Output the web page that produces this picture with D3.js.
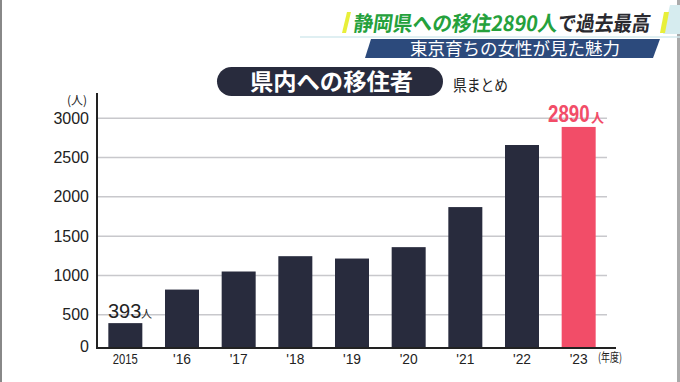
<!DOCTYPE html>
<html>
<head>
<meta charset="utf-8">
<script src="https://cdn.jsdelivr.net/npm/d3@7"></script>
<style>
  body { margin: 0; background: #fff; }
  svg { display: block; }
</style>
</head>
<body>
<svg width="680" height="382"></svg>
<script>
var years = ["2015", "'16", "'17", "'18", "'19", "'20", "'21", "'22", "'23"];
var movers = [393, 820, 1050, 1245, 1215, 1360, 1870, 2660, 2890];
var yTicks = [0, 500, 1000, 1500, 2000, 2500, 3000];

var svg = d3.select("svg"),
    width = +svg.attr("width"),
    height = +svg.attr("height");

var jp = "'Noto Sans CJK JP', sans-serif",
    num = "'Liberation Sans', Roboto, sans-serif",
    navy = "#282b3d",
    pink = "#f24d68";

var baseY = 348;

var x = d3.scaleBand()
    .domain(years)
    .range([97, 607])
    .paddingInner(0.4)
    .paddingOuter(0.2);

var y = d3.scaleLinear()
    .domain([0, 3000])
    .range([354, 118.3]);

// frame edges
svg.append("rect").attr("x", 0).attr("y", 0).attr("width", 2).attr("height", height).attr("fill", "#888");
svg.append("rect").attr("x", 677).attr("y", 0).attr("width", 3).attr("height", height).attr("fill", "#aaa");

// gridlines
svg.append("g")
  .selectAll("line")
  .data(yTicks.filter(function(d) { return d > 0; }))
  .enter().append("line")
    .attr("x1", 97).attr("x2", 607)
    .attr("y1", function(d) { return y(d); })
    .attr("y2", function(d) { return y(d); })
    .attr("stroke", "#c8c8cc")
    .attr("stroke-width", 1.5);

// bars
svg.append("g")
  .selectAll("rect")
  .data(movers)
  .enter().append("rect")
    .attr("x", function(d, i) { return x(years[i]); })
    .attr("width", x.bandwidth())
    .attr("y", function(d) { return y(d); })
    .attr("height", function(d) { return baseY - y(d); })
    .attr("fill", function(d, i) { return i == movers.length - 1 ? pink : navy; });

// axes
svg.append("line").attr("x1", 97).attr("x2", 97).attr("y1", 93).attr("y2", baseY)
    .attr("stroke", "#222").attr("stroke-width", 2);
svg.append("line").attr("x1", 96).attr("x2", 616).attr("y1", baseY).attr("y2", baseY)
    .attr("stroke", "#222").attr("stroke-width", 2);

var yAxis = svg.append("g")
    .attr("transform", "translate(89,0)")
    .call(d3.axisLeft(y).tickValues(yTicks).tickFormat(d3.format("d")).tickSize(0).tickPadding(0));
yAxis.select(".domain").remove();
yAxis.selectAll("text")
    .attr("font-family", num)
    .attr("font-size", 16)
    .attr("fill", "#222");
// zero label is squeezed up onto the baseline
yAxis.selectAll(".tick").filter(function(d) { return d === 0; })
    .attr("transform", "translate(0," + (baseY - 1) + ")");

svg.append("text")
    .attr("x", 77).attr("y", 105)
    .attr("text-anchor", "middle")
    .attr("font-family", jp).attr("font-size", 12).attr("fill", "#222")
    .text("(人)");

var xAxis = svg.append("g")
    .attr("transform", "translate(0," + (baseY + 4) + ")")
    .call(d3.axisBottom(x).tickSize(0).tickPadding(0));
xAxis.select(".domain").remove();
xAxis.selectAll("text")
    .attr("font-family", num)
    .attr("font-size", 15)
    .attr("dy", "0.8em")
    .attr("fill", "#222")
    .attr("textLength", function(d) { return d.length == 4 ? 25 : 18; })
    .attr("lengthAdjust", "spacingAndGlyphs");

svg.append("text")
    .attr("x", 598).attr("y", 362)
    .attr("font-family", jp).attr("font-size", 12).attr("fill", "#222")
    .attr("textLength", 24).attr("lengthAdjust", "spacingAndGlyphs")
    .text("(年度)");

// value labels
svg.append("text")
    .attr("x", 108)
    .attr("y", y(movers[0]) - 5)
    .attr("font-family", num).attr("font-size", 20).attr("fill", "#222")
    .text(movers[0]);
svg.append("text")
    .attr("x", 141)
    .attr("y", y(movers[0]) - 5)
    .attr("font-family", jp).attr("font-size", 11).attr("fill", "#222")
    .text("人");

svg.append("text")
    .attr("transform", "translate(548," + (y(movers[8]) - 5) + ") scale(0.78,1)")
    .attr("font-family", num).attr("font-weight", "bold").attr("font-size", 24).attr("fill", pink)
    .text(movers[8]);
svg.append("text")
    .attr("x", 591)
    .attr("y", y(movers[8]) - 5)
    .attr("font-family", jp).attr("font-weight", "bold").attr("font-size", 13).attr("fill", pink)
    .text("人");

// chart title pill
svg.append("rect")
    .attr("x", 217).attr("y", 67).attr("width", 226).attr("height", 29)
    .attr("rx", 14.5).attr("fill", navy);
svg.append("text")
    .attr("x", 250).attr("y", 90)
    .attr("font-family", jp).attr("font-weight", "bold").attr("font-size", 23).attr("fill", "#fff")
    .attr("textLength", 163).attr("lengthAdjust", "spacingAndGlyphs")
    .text("県内への移住者");
svg.append("text")
    .attr("x", 453).attr("y", 91)
    .attr("font-family", jp).attr("font-size", 16).attr("fill", "#222")
    .attr("textLength", 55).attr("lengthAdjust", "spacingAndGlyphs")
    .text("県まとめ");

// top banner
svg.append("line").attr("x1", 300).attr("x2", 680).attr("y1", 37).attr("y2", 37)
    .attr("stroke", "#d4eaee").attr("stroke-width", 1.5);
svg.append("path").attr("d", "M670,5L680,5L680,34L663,34Z").attr("fill", "#d6ecef");
svg.append("path").attr("d", "M347,12L351,12L346,33L342,33Z").attr("fill", "#e8ef3a");
svg.append("path").attr("d", "M664,12L669,12L665,33L660,33Z").attr("fill", "#e8ef3a");

var head = svg.append("text")
    .attr("x", 353).attr("y", 31)
    .attr("font-family", jp).attr("font-weight", "bold").attr("font-size", 21)
    .attr("transform", "skewX(-8) translate(4,0)");
head.append("tspan").attr("fill", "#25a13c")
    .attr("textLength", 204).attr("lengthAdjust", "spacingAndGlyphs")
    .text("静岡県への移住2890人");
head.append("tspan").attr("fill", "#2a2a30")
    .attr("textLength", 93).attr("lengthAdjust", "spacingAndGlyphs")
    .text("で過去最高");

svg.append("path").attr("d", "M371,39L660,39L653,58L365,58Z").attr("fill", "#2c4a7c");
svg.append("text")
    .attr("x", 410).attr("y", 55)
    .attr("font-family", jp).attr("font-size", 17).attr("fill", "#fff")
    .attr("textLength", 210).attr("lengthAdjust", "spacingAndGlyphs")
    .text("東京育ちの女性が見た魅力");
</script>
</body>
</html>
